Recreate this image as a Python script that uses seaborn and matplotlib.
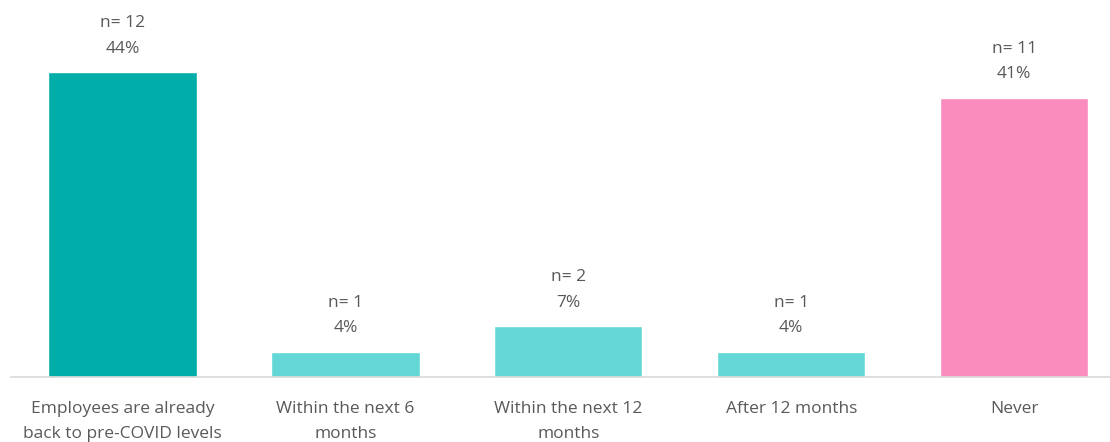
import matplotlib
matplotlib.use("Agg")
import matplotlib.pyplot as plt
import seaborn as sns
import pandas as pd

categories = ["Employees are already\nback to pre-COVID levels",
              "Within the next 6\nmonths",
              "Within the next 12\nmonths",
              "After 12 months",
              "Never"]
counts = [12, 1, 2, 1, 11]
percents = [44.4, 3.7, 7.4, 3.7, 40.7]
pct_labels = ["44%", "4%", "7%", "4%", "41%"]
colors = ["#00ADA9", "#62D7D5", "#62D7D5", "#62D7D5", "#F98CBD"]

sns.set_theme(style="white")
plt.rcParams['font.family'] = ['Open Sans', 'DejaVu Sans']

df = pd.DataFrame({"cat": categories, "pct": percents})

fig = plt.figure(figsize=(11.10, 4.42), dpi=100)
ax = fig.add_axes([11/1110, 1 - 377/442, 1 - 11/1110, 377/442])
sns.barplot(data=df, x="cat", y="pct", hue="cat", palette=dict(zip(categories, colors)),
            order=categories, hue_order=categories, width=0.665, legend=False, ax=ax,
            saturation=1)

ax.set_xlim(-0.5, 4.43)
ax.set_ylim(0, 54.9)
ax.set_xlabel("")
ax.set_ylabel("")
ax.set_yticks([])
for s in ["top", "right", "left"]:
    ax.spines[s].set_visible(False)
ax.spines["bottom"].set_color("#D9D9D9")
ax.spines["bottom"].set_linewidth(1.2)
ax.tick_params(axis="x", length=0, pad=17, labelsize=12.5, labelcolor="#595959")
for lbl in ax.get_xticklabels():
    lbl.set_linespacing(1.75)

for i, (n, p, pl) in enumerate(zip(counts, percents, pct_labels)):
    ax.annotate(f"n= {n}\n{pl}", xy=(i, p), xytext=(0, 11), textcoords="offset points",
                ha="center", va="bottom", fontsize=12.5, color="#595959", linespacing=1.8)

fig.savefig("out.png", dpi=100)
